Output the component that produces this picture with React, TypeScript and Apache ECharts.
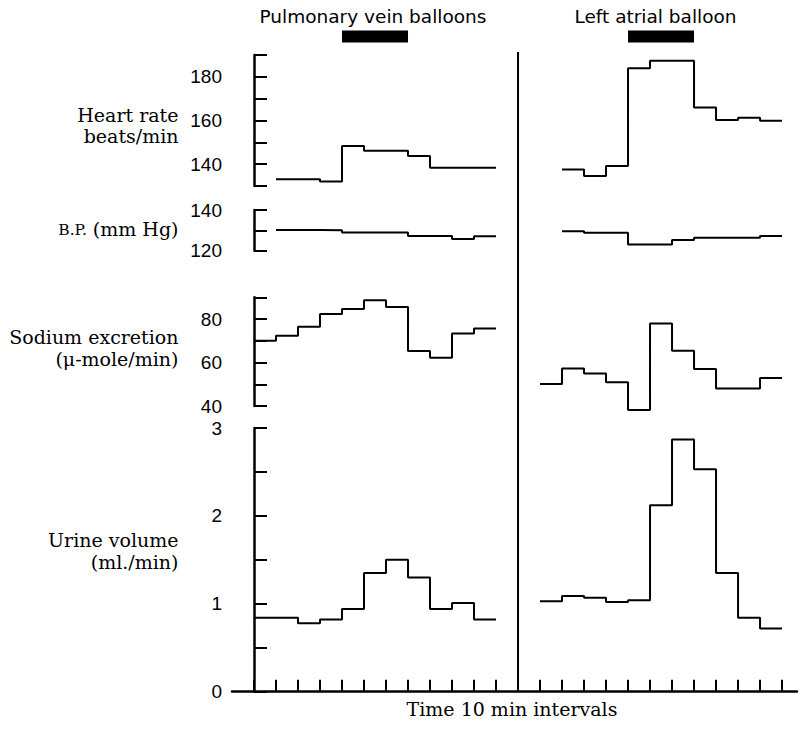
import React, { useEffect, useRef } from "react";
import * as echarts from "echarts";

// Tick positions along the time axis (10 min intervals); index 12 is the divider
const leftTicks = [0, 1, 2, 3, 4, 5, 6, 7, 8, 9, 10, 11];
const rightTicks = [13, 14, 15, 16, 17, 18, 19, 20, 21, 22, 23, 24];
const dividerAt = 12;

// Balloon inflation periods [start, end] in tick units
const balloonLeft = [4, 7];
const balloonRight = [17, 20];

// Heart rate (beats/min), one value per interval, starting at tick
const hrLeftStart = 1;
const hrLeft = [133.1, 133.1, 132.1, 148.3, 146.2, 146.2, 143.7, 138.4, 138.4, 138.4];
const hrRightStart = 14;
const hrRight = [137.6, 134.6, 139.2, 183.9, 187.4, 187.4, 166.0, 160.2, 161.3, 159.9];

// Blood pressure (mm Hg)
const bpLeftStart = 1;
const bpLeft = [130.2, 130.2, 130.0, 129.0, 129.0, 129.0, 127.2, 127.2, 125.7, 127.1];
const bpRightStart = 14;
const bpRight = [129.5, 128.8, 128.8, 123.1, 123.1, 125.3, 126.4, 126.4, 126.4, 127.2];

// Sodium excretion (µ-mole/min)
const naLeftStart = 0;
const naLeft = [70.0, 72.3, 76.5, 82.3, 84.6, 88.6, 85.5, 65.3, 62.2, 73.4, 75.6];
const naRightStart = 13;
const naRight = [50.1, 57.3, 55.0, 50.9, 38.2, 78.0, 65.4, 57.0, 48.1, 48.1, 52.9];

// Urine volume (ml./min)
const urLeftStart = 0;
const urLeft = [0.84, 0.84, 0.78, 0.82, 0.94, 1.35, 1.5, 1.3, 0.94, 1.01, 0.82];
const urRightStart = 13;
const urRight = [1.03, 1.09, 1.07, 1.02, 1.04, 2.12, 2.87, 2.53, 1.35, 0.84, 0.72];

// Y-axis tick labels
const hrLabels = [140, 160, 180];
const bpLabels = [120, 140];
const naLabels = [40, 60, 80];
const urLabels = [0, 1, 2, 3];

function stepData(start: number, values: number[]) {
  const pts: number[][] = values.map((v, i) => [start + i, v]);
  pts.push([start + values.length, values[values.length - 1]]);
  return pts;
}

const X_MIN = -1;
const X_MAX = 24.68;
const LEFT = 232;
const WIDTH = 565;
const NUM_FONT = "Liberation Sans, Arial, sans-serif";
const SERIF = "DejaVu Serif, serif";
const SANS = "DejaVu Sans, sans-serif";

function yAxisFor(gridIndex: number, min: number, max: number, interval: number, labels: number[]) {
  return {
    type: "value",
    gridIndex,
    min,
    max,
    interval,
    axisLine: { show: true, lineStyle: { color: "#000", width: 2.5 } },
    axisTick: { show: true, inside: true, length: 13, lineStyle: { color: "#000", width: 2 } },
    axisLabel: {
      show: true,
      margin: 10,
      color: "#000",
      fontSize: 19,
      fontFamily: NUM_FONT,
      formatter: (v: number) => (labels.some((l) => Math.abs(l - v) < 1e-6) ? String(v) : ""),
    },
    splitLine: { show: false },
  };
}

function hiddenX(gridIndex: number) {
  return { type: "value", gridIndex, min: X_MIN, max: X_MAX, show: false, splitLine: { show: false } };
}

function stepSeries(gridIndex: number, start: number, values: number[]) {
  return {
    type: "line",
    xAxisIndex: gridIndex,
    yAxisIndex: gridIndex,
    data: stepData(start, values),
    step: "end",
    symbol: "none",
    showSymbol: false,
    clip: false,
    lineStyle: { color: "#000", width: 2 },
  };
}

export default function App() {
  const ref = useRef<HTMLDivElement>(null);

  useEffect(() => {
    if (!ref.current) return;
    const chart = echarts.init(ref.current, null, { renderer: "svg" });

    const option: any = {
      animation: false,
      backgroundColor: "#fff",
      grid: [
        { left: LEFT, top: 30.5, width: WIDTH, height: 12 },
        { left: LEFT, top: 55, width: WIDTH, height: 131 },
        { left: LEFT, top: 210, width: WIDTH, height: 40.7 },
        { left: LEFT, top: 297.3, width: WIDTH, height: 108.7 },
        { left: LEFT, top: 428, width: WIDTH, height: 263.7 },
        { left: LEFT, top: 52, width: WIDTH, height: 639.7 },
      ],
      xAxis: [
        hiddenX(0),
        hiddenX(1),
        hiddenX(2),
        hiddenX(3),
        {
          type: "value",
          gridIndex: 4,
          min: X_MIN,
          max: X_MAX,
          interval: 1,
          axisLine: { show: true, onZero: false, lineStyle: { color: "#000", width: 2.5 } },
          axisTick: {
            show: true,
            inside: true,
            length: 12,
            customValues: [...leftTicks, ...rightTicks],
            lineStyle: { color: "#000", width: 2 },
          },
          axisLabel: { show: false },
          splitLine: { show: false },
        },
        hiddenX(5),
      ],
      yAxis: [
        { type: "value", gridIndex: 0, min: -1, max: 1, show: false, splitLine: { show: false } },
        yAxisFor(1, 130, 190, 10, hrLabels),
        yAxisFor(2, 120, 140, 10, bpLabels),
        yAxisFor(3, 40, 90, 10, naLabels),
        yAxisFor(4, 0, 3, 0.5, urLabels),
        { type: "value", gridIndex: 5, min: 0, max: 1, show: false, splitLine: { show: false } },
      ],
      series: [
        {
          type: "line",
          xAxisIndex: 0,
          yAxisIndex: 0,
          data: [[balloonLeft[0], 0], [balloonLeft[1], 0]],
          symbol: "none",
          lineStyle: { color: "#000", width: 12, cap: "butt" },
        },
        {
          type: "line",
          xAxisIndex: 0,
          yAxisIndex: 0,
          data: [[balloonRight[0], 0], [balloonRight[1], 0]],
          symbol: "none",
          lineStyle: { color: "#000", width: 12, cap: "butt" },
        },
        {
          type: "line",
          xAxisIndex: 5,
          yAxisIndex: 5,
          data: [[dividerAt, 0], [dividerAt, 1]],
          symbol: "none",
          lineStyle: { color: "#000", width: 2 },
        },
        stepSeries(1, hrLeftStart, hrLeft),
        stepSeries(1, hrRightStart, hrRight),
        stepSeries(2, bpLeftStart, bpLeft),
        stepSeries(2, bpRightStart, bpRight),
        stepSeries(3, naLeftStart, naLeft),
        stepSeries(3, naRightStart, naRight),
        stepSeries(4, urLeftStart, urLeft),
        stepSeries(4, urRightStart, urRight),
      ],
      graphic: [
        {
          type: "text",
          x: 373,
          y: 16.5,
          style: { text: "Pulmonary vein balloons", font: `18.5px ${SANS}`, fill: "#000", align: "center", verticalAlign: "middle" },
        },
        {
          type: "text",
          x: 655.5,
          y: 16.5,
          style: { text: "Left atrial balloon", font: `18.5px ${SANS}`, fill: "#000", align: "center", verticalAlign: "middle" },
        },
        {
          type: "text",
          x: 178.5,
          y: 115,
          style: { text: "Heart rate", font: `19px ${SERIF}`, fill: "#000", align: "right", verticalAlign: "middle" },
        },
        {
          type: "text",
          x: 178.5,
          y: 136,
          style: { text: "beats/min", font: `19px ${SERIF}`, fill: "#000", align: "right", verticalAlign: "middle" },
        },
        {
          type: "text",
          x: 178.5,
          y: 228.5,
          style: {
            text: "{sc|B.P.} (mm Hg)",
            font: `19px ${SERIF}`,
            fill: "#000",
            align: "right",
            verticalAlign: "middle",
            rich: { sc: { fontSize: 15.5, fontFamily: SERIF, fill: "#000", padding: [2, 0, 0, 0] } },
          },
        },
        {
          type: "text",
          x: 178.5,
          y: 337,
          style: { text: "Sodium excretion", font: `19px ${SERIF}`, fill: "#000", align: "right", verticalAlign: "middle" },
        },
        {
          type: "text",
          x: 178.5,
          y: 358.5,
          style: { text: "(μ-mole/min)", font: `19px ${SERIF}`, fill: "#000", align: "right", verticalAlign: "middle" },
        },
        {
          type: "text",
          x: 178.5,
          y: 540,
          style: { text: "Urine volume", font: `19px ${SERIF}`, fill: "#000", align: "right", verticalAlign: "middle" },
        },
        {
          type: "text",
          x: 178.5,
          y: 561.5,
          style: { text: "(ml./min)", font: `19px ${SERIF}`, fill: "#000", align: "right", verticalAlign: "middle" },
        },
        {
          type: "text",
          x: 512,
          y: 708.5,
          style: { text: "Time 10 min intervals", font: `19px ${SERIF}`, fill: "#000", align: "center", verticalAlign: "middle" },
        },
      ],
    };

    chart.setOption(option);
    return () => chart.dispose();
  }, []);

  return (
    <div
      ref={ref}
      style={{ position: "fixed", left: 0, top: 0, width: 801, height: 731, background: "#fff" }}
    />
  );
}
